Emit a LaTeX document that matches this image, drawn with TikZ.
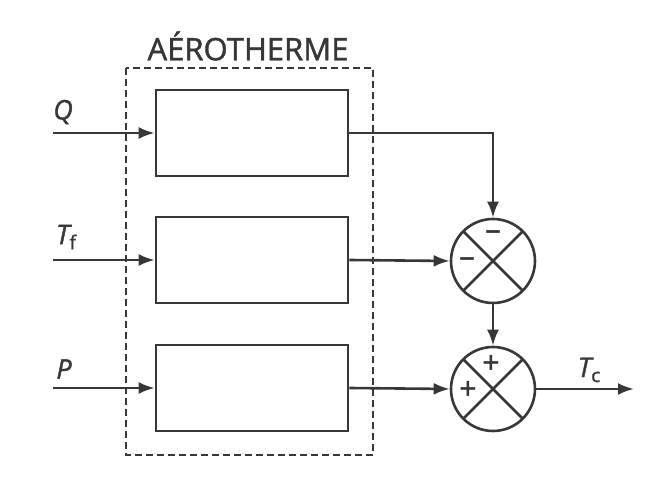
\documentclass[tikz,border=0pt]{standalone}
\usepackage{fontspec}
\setmainfont{Open Sans}
\newfontfamily\semifont{Open Sans}[FakeBold=1.4]
\usetikzlibrary{arrows.meta,positioning,calc}
\definecolor{ink}{RGB}{55,55,55}

\begin{document}
\begin{tikzpicture}[x=0.5pt,y=-0.5pt,line width=1.3pt,draw=ink,text=ink,
  block/.style={draw=ink, minimum width=96pt, minimum height=43pt, inner sep=0pt},
  sumnode/.style={draw=ink, circle, minimum size=42pt, inner sep=0pt,
    path picture={\draw[ink] (path picture bounding box.north west)--(path picture bounding box.south east)
      (path picture bounding box.north east)--(path picture bounding box.south west);}},
  sig/.style={font=\fontsize{15}{15}\selectfont\semifont, inner sep=0pt},
  lbl/.style={font=\fontsize{13.5}{15}\selectfont\semifont\itshape, inner sep=0pt},
  arr/.style={-{Latex[length=8pt,width=6pt]}, ink}]
\useasboundingbox (0,0) rectangle (649,480);
% aerotherme
\draw[ink, dash pattern=on 3.5pt off 2pt] (126,68) rectangle (373,455);
\node[font=\fontsize{15.5}{17}\selectfont\semifont, inner sep=0pt] (title) at (248,46) {AÉROTHERME};
\node[block] (b1) at (252,133) {};
\node[block] (b2) at (252,260) {};
\node[block] (b3) at (252,388) {};
% inputs
\coordinate (q) at (53,133);
\coordinate (tf) at (53,260);
\coordinate (p) at (53,388);
\node[lbl] (ql) at (63,112) {Q};
\node[lbl] (tfl) at (66,237) {T\raisebox{-0.35ex}{\fontsize{9.5}{9}\selectfont\upshape f}};
\node[lbl] (pl) at (64,369) {P};
\draw[arr] (q)--(b1);
\draw[arr] (tf)--(b2);
\draw[arr] (p)--(b3);
% comparateurs
\node[sumnode] (s1) at (493,261) {};
\node[sumnode] (s2) at (493,389) {};
\node[sig] at (493,235) {–};
\node[sig] at (467,262) {–};
\node[sig] at (491,364) {+};
\node[sig] at (468,390) {+};
\draw[arr] (b1.east) -| (s1.north);
\draw[arr] (b2.east)--(s1.west);
\draw[arr] (s1.south)--(s2.north);
\draw[arr] (b3.east)--(s2.west);
\coordinate (tc) at (634,389);
\draw[arr] (s2.east)--(tc);
\node[lbl] (tcl) at (589,370) {T\raisebox{-0.35ex}{\fontsize{9.5}{9}\selectfont\upshape c}};
\end{tikzpicture}
\end{document}
